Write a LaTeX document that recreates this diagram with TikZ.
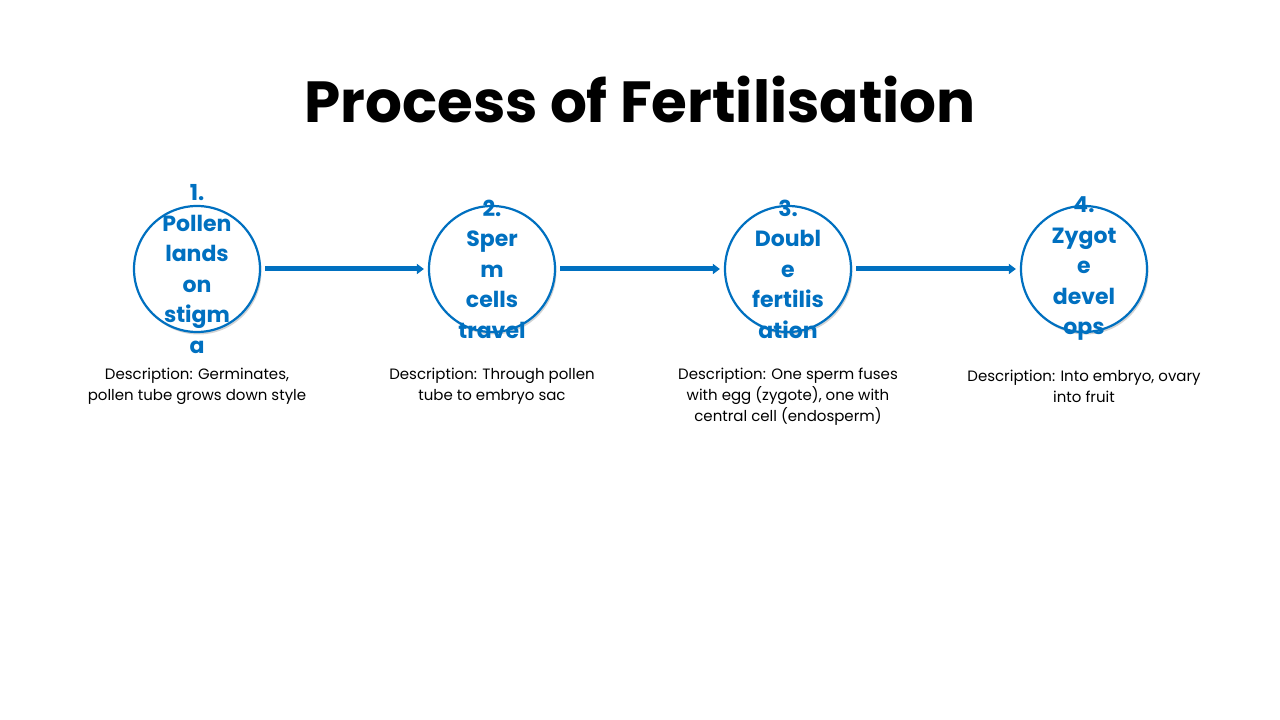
\documentclass[tikz,border=0pt]{standalone}
\usepackage{fontspec}
\setmainfont{Poppins}
\usetikzlibrary{shadows,arrows.meta}
\definecolor{blu}{RGB}{0,112,192}
\tikzset{
 stepc/.style={circle,draw=blu,line width=2.2pt,fill=white,minimum size=126pt,inner sep=0pt,drop shadow={opacity=0.35,shadow xshift=1.5pt,shadow yshift=-2.5pt}},
 steptxt/.style={text=blu,font=\fontsize{22}{30.5}\selectfont\bfseries,align=center},
 desc/.style={font=\fontsize{15}{21}\selectfont,align=center,text=black},
 conn/.style={draw=blu,line width=5pt,-{Triangle[length=7pt,width=10pt]},shorten >=4pt,shorten <=4pt}
}
\begin{document}
\begin{tikzpicture}[x=1pt,y=1pt]
\useasboundingbox (0,0) rectangle (1280,720);
\node[font=\fontsize{58}{60}\selectfont\bfseries] (title) at (640,620) {Process of Fertilisation};
\foreach \i/\x in {1/197,2/492,3/788,4/1084}{\node[stepc] (c\i) at (\x,451) {};}
\node[steptxt] (t1) at (197,451) {1.\\Pollen\\lands\\on\\stigm\\a};
\node[steptxt] (t2) at (492,451) {2.\\Sper\\m\\cells\\travel};
\node[steptxt] (t3) at (788,451) {3.\\Doubl\\e\\fertilis\\ation};
\node[steptxt] (t4) at (1084,451) {4.\\Zygot\\e\\devel\\ops};
\draw[conn] (c1) -- (c2);
\draw[conn] (c2) -- (c3);
\draw[conn] (c3) -- (c4);
\node[desc] (d1) at (197,333.5) {Description: Germinates,\\pollen tube grows down style};
\node[desc] (d2) at (492,333.5) {Description: Through pollen\\tube to embryo sac};
\node[desc] (d3) at (788,323) {Description: One sperm fuses\\with egg (zygote), one with\\central cell (endosperm)};
\node[desc] (d4) at (1084,333.5) {Description: Into embryo, ovary\\into fruit};
\end{tikzpicture}
\end{document}
